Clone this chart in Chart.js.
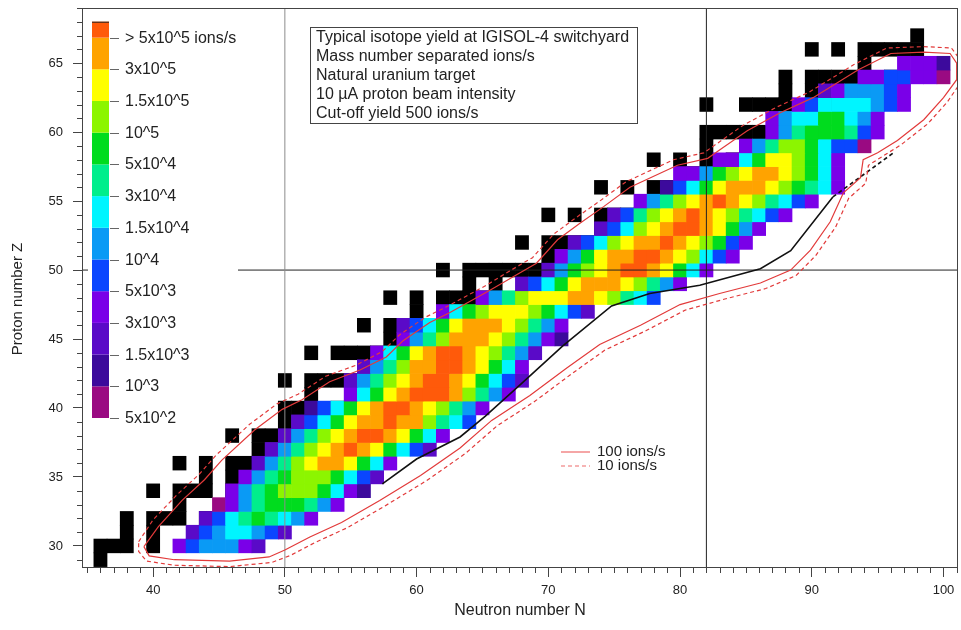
<!DOCTYPE html>
<html>
<head>
<meta charset="utf-8">
<script src="https://cdn.jsdelivr.net/npm/chart.js@4.4.0/dist/chart.umd.min.js"></script>
<style>
  html, body { margin: 0; padding: 0; background: #fff; }
  #wrap { width: 961px; height: 630px; }
</style>
</head>
<body>
<div id="wrap"><canvas id="chartCanvas" width="961" height="630"></canvas></div>
<script>
// yield classes, lowest first
const levelLabels = ["5x10^2", "10^3", "1.5x10^3", "3x10^3", "5x10^3", "10^4", "1.5x10^4",
                     "3x10^4", "5x10^4", "10^5", "1.5x10^5", "3x10^5", "> 5x10^5 ions/s"];
const levelColors = ["#9a0a82", "#3c0a9c", "#5a0ac8", "#7a00e8", "#0a46ff", "#0a9af5", "#00f5ff",
                     "#00ee8c", "#00dc1e", "#8cf500", "#ffff00", "#ffa300", "#ff5a0a"];

// yield map: one row per proton number, first neutron number, then one class per cell (hex digit)
const rowZ = [30, 31, 32, 33, 34, 35, 36, 37, 38, 39, 40, 41, 42, 43, 44, 45, 46, 47,
              48, 49, 50, 51, 52, 53, 54, 55, 56, 57, 58, 59, 60, 61, 62, 63, 64, 65];
const rowStartN = [42, 43, 44, 45, 46, 47, 48, 49, 50, 51, 52, 55, 55, 56, 57, 59, 59, 62,
                   65, 68, 70, 71, 72, 74, 75, 77, 79, 80, 83, 85, 87, 87, 89, 91, 94, 97];
const rowLevels = [
  "3455532",
  "24566542",
  "246787653",
  "0357888753",
  "35789998631",
  "35789998642",
  "2579abba863",
  "2579abcba8642",
  "2579abccba863",
  "2468abbcbb9764",
  "1468abccba9753",
  "368abcccb9753",
  "2579abccba8642",
  "2579bbccba863",
  "368abccba9752",
  "3579bbba97531",
  "2468abbba9753",
  "3689aaa98642",
  "3579aaabba9764",
  "2468abbba9753",
  "2589abccba863",
  "358abbccba9643",
  "2469abbcba9843",
  "2469abccba853",
  "2479abcba97643",
  "3579abcba97643",
  "1468abbba98763",
  "33589abba9863",
  "3368aa9863",
  "3579986440",
  "357888743",
  "356688653",
  "346666543",
  "2355543",
  "3344330",
  "3331"
];

// stable nuclei (black squares)
const stableZ = [29, 30, 31, 32, 33, 34, 35, 36, 37, 38, 39, 40, 41, 42, 44, 45, 46, 47, 48,
                 49, 50, 51, 52, 53, 54, 55, 56, 57, 58, 59, 60, 62, 63, 64, 65, 66, 67];
const stableN = [
  [36], [36, 37, 38, 40], [38, 40], [38, 40, 41, 42, 44], [42], [40, 42, 43, 44, 46, 48],
  [44, 46], [42, 44, 46, 47, 48, 50], [48], [46, 48, 49, 50], [50], [50, 51, 52, 54, 56],
  [52], [50, 52, 53, 54, 55, 56, 58], [52, 54, 55, 56, 57, 58, 60], [58],
  [56, 58, 59, 60, 62, 64], [60, 62], [58, 60, 62, 63, 64, 65, 66, 68], [64, 66],
  [62, 64, 65, 66, 67, 68, 69, 70, 72, 74], [70, 72], [68, 70, 71, 72, 73, 74, 76, 78], [74],
  [70, 72, 74, 75, 76, 77, 78, 80, 82], [78], [74, 76, 78, 79, 80, 81, 82], [81, 82],
  [78, 80, 82, 84], [82], [82, 83, 84, 85, 86, 88, 90], [82, 85, 86, 87, 88, 90, 92],
  [88, 90], [88, 90, 91, 92, 93, 94, 96], [94], [90, 92, 94, 95, 96, 97, 98], [98]
];

// 100 ions/s contour
const c100N = [39.3, 40.4, 42.2, 43.9, 45.2, 47.7, 49.8, 51.3, 53.4, 55.7, 57.7, 59.0, 61.0, 62.5,
  65.6, 67.3, 69.1, 70.7, 72.4, 74.2, 76.2, 79.8, 82.1, 83.0, 85.1, 87.6, 90.1, 93.5, 96.0, 98.5,
  100.5, 101.0, 101.0, 100.0, 98.5, 96.5, 95.0, 93.9, 93.7, 92.4, 91.4, 89.9, 88.4, 86.1, 83.0,
  80.0, 77.0, 73.9, 71.4, 68.6, 65.7, 63.3, 60.3, 57.2, 54.3, 51.9, 50.0, 48.8, 45.8, 41.6, 39.7, 39.3];
const c100Z = [29.95, 31.4, 33.3, 34.8, 36.2, 38.4, 39.9, 40.6, 41.9, 42.75, 43.7, 44.9, 46.2, 46.9,
  48.55, 49.5, 50.5, 52.2, 53.4, 54.6, 56.0, 57.6, 58.1, 58.7, 60.1, 61.4, 62.5, 64.5, 65.7, 65.8,
  65.7, 65.0, 63.8, 62.5, 60.9, 59.4, 58.5, 58.0, 56.7, 55.6, 53.5, 51.45, 50.0, 49.06, 48.3,
  47.5, 46.0, 44.6, 42.9, 40.9, 39.1, 37.1, 35.1, 33.3, 31.7, 30.65, 29.7, 29.2, 28.9, 29.0, 29.28, 29.95];
// 10 ions/s contour
const c10N = [38.9, 40.0, 41.8, 43.5, 44.8, 47.3, 49.4, 51.0, 53.1, 55.4, 57.4, 58.7, 60.7, 62.2,
  65.3, 67.0, 68.8, 70.4, 72.1, 73.9, 75.9, 79.5, 81.8, 82.7, 84.8, 87.3, 89.8, 93.2, 95.7, 98.5,
  100.6, 101.3, 101.3, 100.3, 98.8, 96.8, 95.3, 94.3, 94.1, 92.8, 91.8, 90.3, 88.8, 86.5, 83.4,
  80.4, 77.4, 74.3, 71.8, 69.0, 66.1, 63.7, 60.7, 57.6, 54.7, 52.3, 50.4, 49.0, 45.8, 41.6, 39.5, 38.9, 38.9];
const c10Z = [30.3, 31.9, 33.7, 35.2, 36.6, 38.8, 40.3, 41.0, 42.3, 43.1, 44.1, 45.3, 46.6, 47.3,
  48.9, 49.9, 50.9, 52.6, 53.8, 55.0, 56.4, 58.0, 58.5, 59.1, 60.5, 61.8, 62.9, 64.9, 66.1, 66.2,
  66.1, 65.2, 63.6, 62.2, 60.6, 59.1, 58.2, 57.6, 56.3, 55.2, 53.1, 51.05, 49.6, 48.66, 47.9,
  47.1, 45.6, 44.2, 42.5, 40.5, 38.7, 36.7, 34.7, 32.9, 31.3, 30.25, 29.3, 28.8, 28.5, 28.6, 28.9, 29.6, 30.3];

// black line along the neutron-rich edge, then its dashed continuation
const edgeN = [57.4, 60.0, 63.3, 65.2, 68.0, 71.1, 74.8, 77.7, 81.5, 86.1, 88.4, 91.6];
const edgeZ = [34.5, 36.3, 37.9, 39.4, 41.8, 44.5, 47.4, 48.3, 48.9, 50.1, 51.4, 55.3];
const edgeDashN = [91.6, 96.2];
const edgeDashZ = [55.3, 58.5];

const infoLines = ["Typical isotope yield at IGISOL-4 switchyard", "Mass number separated ions/s",
                   "Natural uranium target", "10 \u00b5A proton beam intensity", "Cut-off yield 500 ions/s"];

const X_MIN = 34.6, X_MAX = 101.1, Y_MIN = 28.4, Y_MAX = 69;
const FONT = "'Liberation Sans', Arial, sans-serif";

function toPoints(ns, zs) {
  return ns.map((n, i) => ({x: n, y: zs[i]}));
}

// cells
let cellData = [];
let cellColors = [];
for (let r = 0; r < rowZ.length; r++) {
  const s = rowLevels[r];
  for (let k = 0; k < s.length; k++) {
    if (s[k] === '.') continue;
    cellData.push({x: rowStartN[r] + k, y: [rowZ[r] - 0.5, rowZ[r] + 0.5]});
    cellColors.push(levelColors[parseInt(s[k], 16)]);
  }
}
let stableData = [];
for (let i = 0; i < stableZ.length; i++) {
  stableN[i].forEach(n => stableData.push({x: n, y: [stableZ[i] - 0.5, stableZ[i] + 0.5]}));
}

function lineSet(points, color, width, dash) {
  return {
    type: 'line', data: points, borderColor: color, borderWidth: width, borderDash: dash || [],
    pointRadius: 0, fill: false, tension: 0, order: 0
  };
}

// legend boxes, minor ticks, frame, y title
const extrasPlugin = {
  id: 'extras',
  afterDatasetsDraw(chart) {
    const ctx = chart.ctx;
    ctx.save();
    // colour scale
    ctx.fillStyle = '#fff';
    ctx.fillRect(88, 12, 150, 416);
    const barX = 92, barW = 17, bottom = 418, step = 31.7, top = 21.7;
    for (let i = 0; i < levelColors.length; i++) {
      const y0 = bottom - i * step;
      const y1 = i === levelColors.length - 1 ? top : y0 - step;
      ctx.fillStyle = levelColors[i];
      ctx.fillRect(barX, y1, barW, y0 - y1);
    }
    ctx.strokeStyle = '#222';
    ctx.lineWidth = 1;
    ctx.beginPath();
    ctx.moveTo(barX, top + 0.5); ctx.lineTo(barX + barW, top + 0.5);
    ctx.stroke();
    ctx.strokeStyle = '#666';
    ctx.font = '16px ' + FONT;
    ctx.fillStyle = '#222';
    ctx.textBaseline = 'middle';
    ctx.textAlign = 'left';
    for (let i = 0; i < levelLabels.length; i++) {
      const y = Math.round(bottom - i * step) + 0.5;
      ctx.beginPath(); ctx.moveTo(barX + barW + 1, y); ctx.lineTo(barX + barW + 10, y); ctx.stroke();
      ctx.fillText(levelLabels[i], 125, y);
    }
    // info box
    ctx.fillStyle = '#fff';
    ctx.fillRect(310, 27, 327, 96);
    ctx.strokeStyle = '#444';
    ctx.strokeRect(310.5, 27.5, 327, 96);
    ctx.fillStyle = '#222';
    infoLines.forEach((t, i) => ctx.fillText(t, 316, 38 + i * 19));
    // contour legend
    ctx.lineWidth = 1.2;
    ctx.strokeStyle = '#ee6b6b';
    ctx.beginPath(); ctx.moveTo(561, 452); ctx.lineTo(590, 452); ctx.stroke();
    ctx.setLineDash([4, 3]);
    ctx.beginPath(); ctx.moveTo(561, 466); ctx.lineTo(590, 466); ctx.stroke();
    ctx.setLineDash([]);
    ctx.font = '15px ' + FONT;
    ctx.fillText("100 ions/s", 597, 452);
    ctx.fillText("10 ions/s", 597, 466);
    ctx.restore();
  },
  afterDraw(chart) {
    const {ctx, chartArea: ca, scales: {x, y}} = chart;
    ctx.save();
    ctx.strokeStyle = '#444';
    ctx.lineWidth = 1;
    ctx.strokeRect(ca.left + 0.5, ca.top + 0.5, ca.width - 1, ca.height - 1);
    ctx.beginPath();
    for (let n = Math.ceil(X_MIN); n <= X_MAX; n++) {
      if (n % 10 === 0) continue;
      const px = Math.round(x.getPixelForValue(n)) + 0.5;
      ctx.moveTo(px, ca.bottom); ctx.lineTo(px, ca.bottom + 5);
    }
    for (let z = Math.ceil(Y_MIN); z <= Y_MAX; z++) {
      if (z % 5 === 0) continue;
      const py = Math.round(y.getPixelForValue(z)) + 0.5;
      ctx.moveTo(ca.left, py); ctx.lineTo(ca.left - 5, py);
    }
    ctx.stroke();
    // y axis title
    ctx.translate(18, 299);
    ctx.rotate(-Math.PI / 2);
    ctx.fillStyle = '#222';
    ctx.font = '15px ' + FONT;
    ctx.textAlign = 'center';
    ctx.textBaseline = 'middle';
    ctx.fillText('Proton number Z', 0, 0);
    ctx.restore();
  }
};

const chart = new Chart(document.getElementById('chartCanvas').getContext('2d'), {
  type: 'bar',
  data: {
    datasets: [
      lineSet(toPoints(c100N, c100Z), '#e23a3a', 1.2),
      lineSet(toPoints(c10N, c10Z), '#e23a3a', 1.2, [4, 3]),
      lineSet(toPoints(edgeN, edgeZ), '#111', 1.6),
      lineSet(toPoints(edgeDashN, edgeDashZ), '#111', 1.6, [4, 3]),
      lineSet([{x: 50, y: Y_MIN}, {x: 50, y: Y_MAX}], '#8c8c8c', 1),
      lineSet([{x: 82, y: Y_MIN}, {x: 82, y: Y_MAX}], '#222', 1),
      lineSet([{x: X_MIN, y: 50}, {x: X_MAX, y: 50}], '#222', 1),
      {
        type: 'bar', label: 'yield', data: cellData, backgroundColor: cellColors,
        grouped: false, barPercentage: 1, categoryPercentage: 1, borderWidth: 0, order: 1
      },
      {
        type: 'bar', label: 'stable', data: stableData, backgroundColor: '#000',
        grouped: false, barPercentage: 1, categoryPercentage: 1, borderWidth: 0, order: 2
      }
    ]
  },
  options: {
    responsive: false,
    animation: false,
    events: [],
    layout: {padding: {top: 8, right: 3, left: 0, bottom: 0}},
    plugins: {legend: {display: false}, tooltip: {enabled: false}},
    scales: {
      x: {
        type: 'linear', min: X_MIN, max: X_MAX, offset: false,
        afterFit: s => { s.height = 62; s.paddingLeft = 0; s.paddingRight = 0; },
        border: {display: false},
        grid: {drawOnChartArea: false, offset: false, color: '#444', tickLength: 9},
        ticks: {stepSize: 10, includeBounds: false, padding: 6, color: '#222', font: {family: FONT, size: 13}},
        title: {display: true, text: 'Neutron number N', color: '#222', font: {family: FONT, size: 16}, padding: {top: 4, bottom: 10}}
      },
      y: {
        type: 'linear', min: Y_MIN, max: Y_MAX,
        afterFit: s => { s.width = 82; s.paddingTop = 0; s.paddingBottom = 0; },
        border: {display: false},
        grid: {drawOnChartArea: false, color: '#444', tickLength: 9},
        ticks: {stepSize: 5, includeBounds: false, padding: 10, color: '#222', font: {family: FONT, size: 13}},
        title: {display: false}
      }
    }
  },
  plugins: [extrasPlugin]
});
</script>
</body>
</html>
